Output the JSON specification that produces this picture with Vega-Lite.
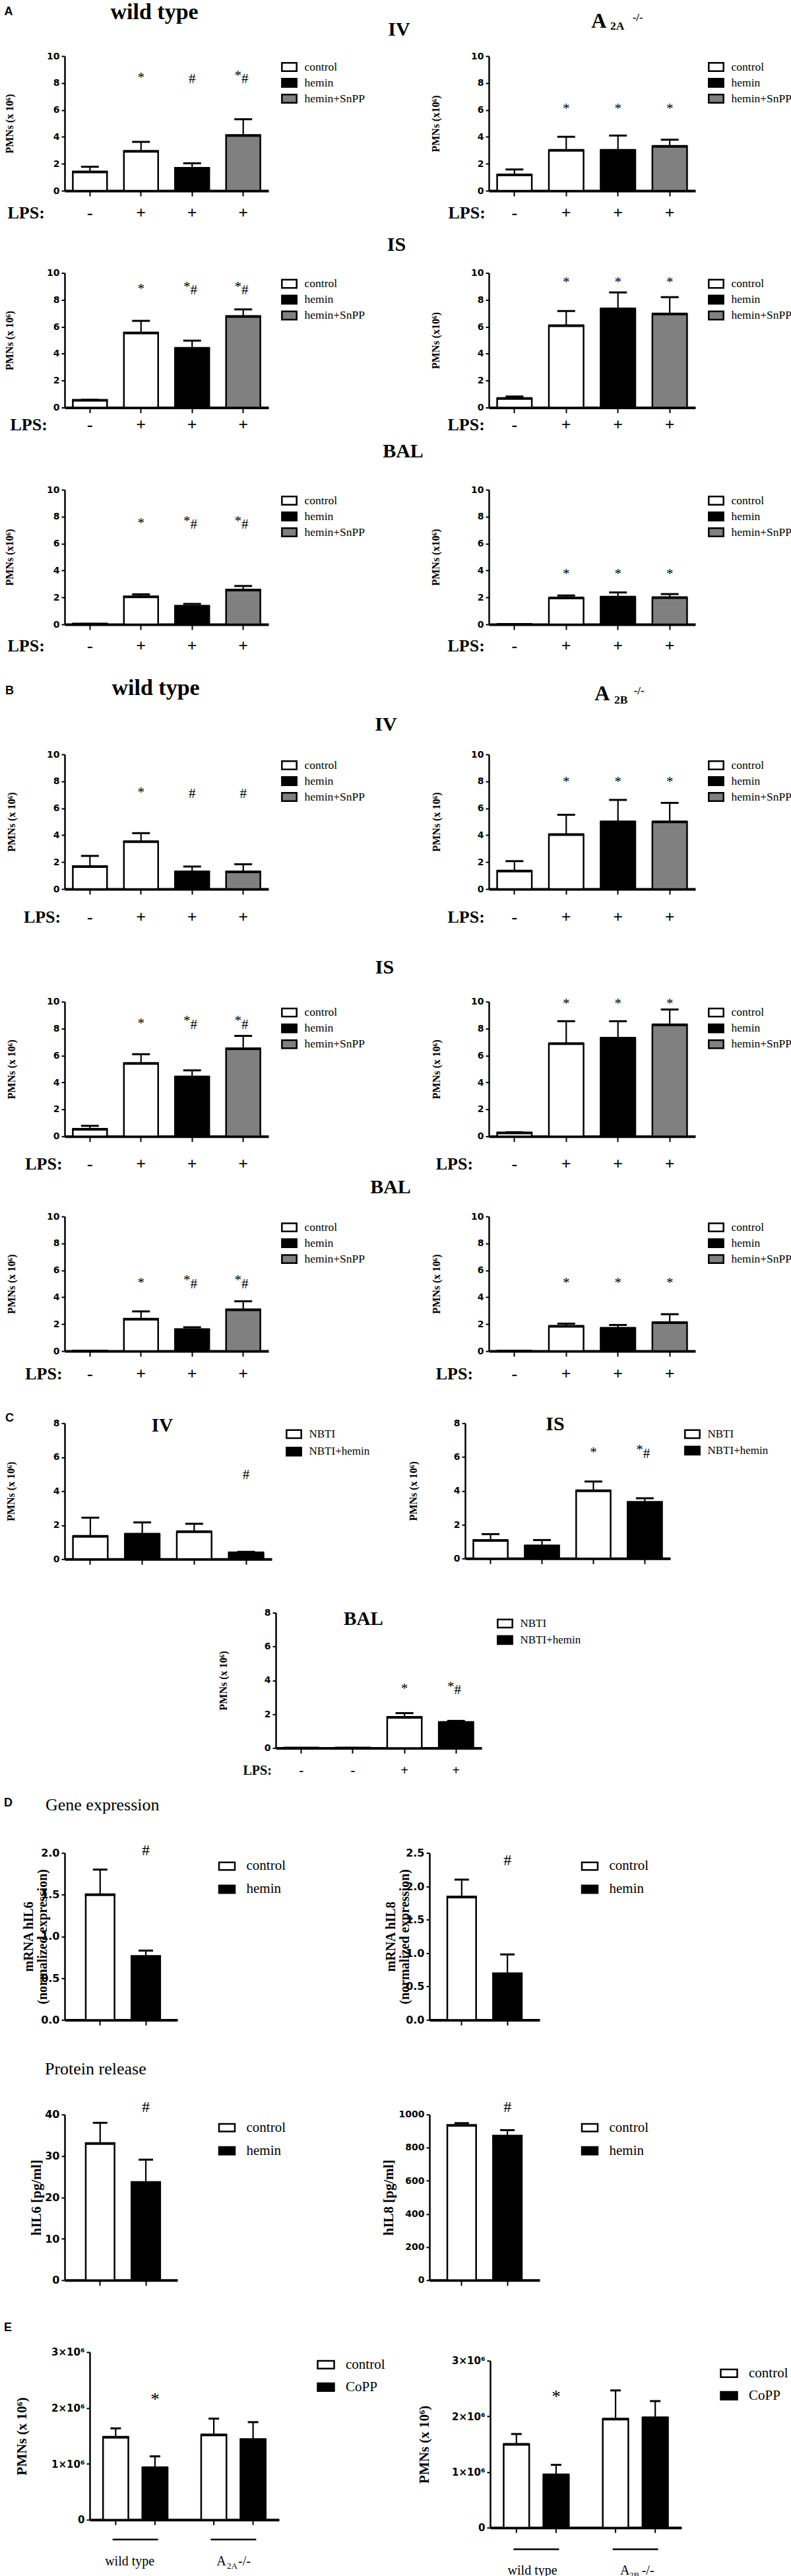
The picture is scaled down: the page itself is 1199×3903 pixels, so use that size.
{
"$schema": "https://vega.github.io/schema/vega-lite/v6.json",
"background": "white",
"padding": {"left": 5, "top": 1, "right": 0, "bottom": 0},
"datasets": {
"bars": [
{"p":"a1","k":"1","g":"control","v":1.4,"e":1.78,"s":""},
{"p":"a1","k":"2","g":"control","v":2.93,"e":3.63,"s":"*"},
{"p":"a1","k":"3","g":"hemin","v":1.67,"e":2.04,"s":"#"},
{"p":"a1","k":"4","g":"hemin+SnPP","v":4.1,"e":5.31,"s":"*#"},
{"p":"a2","k":"1","g":"control","v":1.18,"e":1.58,"s":""},
{"p":"a2","k":"2","g":"control","v":3.0,"e":4.01,"s":"*"},
{"p":"a2","k":"3","g":"hemin","v":3.0,"e":4.1,"s":"*"},
{"p":"a2","k":"4","g":"hemin+SnPP","v":3.3,"e":3.79,"s":"*"},
{"p":"a3","k":"1","g":"control","v":0.54,"e":0.58,"s":""},
{"p":"a3","k":"2","g":"control","v":5.54,"e":6.44,"s":"*"},
{"p":"a3","k":"3","g":"hemin","v":4.4,"e":4.97,"s":"*#"},
{"p":"a3","k":"4","g":"hemin+SnPP","v":6.76,"e":7.29,"s":"*#"},
{"p":"a4","k":"1","g":"control","v":0.68,"e":0.82,"s":""},
{"p":"a4","k":"2","g":"control","v":6.08,"e":7.17,"s":"*"},
{"p":"a4","k":"3","g":"hemin","v":7.33,"e":8.55,"s":"*"},
{"p":"a4","k":"4","g":"hemin+SnPP","v":6.95,"e":8.2,"s":"*"},
{"p":"a5","k":"1","g":"control","v":0.03,"e":0.03,"s":""},
{"p":"a5","k":"2","g":"control","v":2.05,"e":2.23,"s":"*"},
{"p":"a5","k":"3","g":"hemin","v":1.35,"e":1.52,"s":"*#"},
{"p":"a5","k":"4","g":"hemin+SnPP","v":2.55,"e":2.85,"s":"*#"},
{"p":"a6","k":"1","g":"control","v":0,"e":0,"s":""},
{"p":"a6","k":"2","g":"control","v":1.96,"e":2.14,"s":"*"},
{"p":"a6","k":"3","g":"hemin","v":2.02,"e":2.37,"s":"*"},
{"p":"a6","k":"4","g":"hemin+SnPP","v":1.98,"e":2.25,"s":"*"},
{"p":"b1","k":"1","g":"control","v":1.67,"e":2.46,"s":""},
{"p":"b1","k":"2","g":"control","v":3.52,"e":4.15,"s":"*"},
{"p":"b1","k":"3","g":"hemin","v":1.28,"e":1.67,"s":"#"},
{"p":"b1","k":"4","g":"hemin+SnPP","v":1.28,"e":1.84,"s":"#"},
{"p":"b2","k":"1","g":"control","v":1.33,"e":2.07,"s":""},
{"p":"b2","k":"2","g":"control","v":4.04,"e":5.51,"s":"*"},
{"p":"b2","k":"3","g":"hemin","v":4.99,"e":6.62,"s":"*"},
{"p":"b2","k":"4","g":"hemin+SnPP","v":4.99,"e":6.4,"s":"*"},
{"p":"b3","k":"1","g":"control","v":0.52,"e":0.78,"s":""},
{"p":"b3","k":"2","g":"control","v":5.42,"e":6.1,"s":"*"},
{"p":"b3","k":"3","g":"hemin","v":4.41,"e":4.9,"s":"*#"},
{"p":"b3","k":"4","g":"hemin+SnPP","v":6.5,"e":7.46,"s":"*#"},
{"p":"b4","k":"1","g":"control","v":0.26,"e":0.3,"s":""},
{"p":"b4","k":"2","g":"control","v":6.89,"e":8.55,"s":"*"},
{"p":"b4","k":"3","g":"hemin","v":7.29,"e":8.55,"s":"*"},
{"p":"b4","k":"4","g":"hemin+SnPP","v":8.28,"e":9.42,"s":"*"},
{"p":"b5","k":"1","g":"control","v":0,"e":0,"s":""},
{"p":"b5","k":"2","g":"control","v":2.37,"e":2.95,"s":"*"},
{"p":"b5","k":"3","g":"hemin","v":1.6,"e":1.77,"s":"*#"},
{"p":"b5","k":"4","g":"hemin+SnPP","v":3.07,"e":3.7,"s":"*#"},
{"p":"b6","k":"1","g":"control","v":0,"e":0,"s":""},
{"p":"b6","k":"2","g":"control","v":1.84,"e":2.04,"s":"*"},
{"p":"b6","k":"3","g":"hemin","v":1.69,"e":1.94,"s":"*"},
{"p":"b6","k":"4","g":"hemin+SnPP","v":2.11,"e":2.74,"s":"*"},
{"p":"c1","k":"1","g":"NBTI","v":1.34,"e":2.44,"s":""},
{"p":"c1","k":"2","g":"NBTI+hemin","v":1.47,"e":2.16,"s":""},
{"p":"c1","k":"3","g":"NBTI","v":1.61,"e":2.08,"s":""},
{"p":"c1","k":"4","g":"NBTI+hemin","v":0.37,"e":0.43,"s":"#"},
{"p":"c2","k":"1","g":"NBTI","v":1.07,"e":1.44,"s":""},
{"p":"c2","k":"2","g":"NBTI+hemin","v":0.74,"e":1.09,"s":""},
{"p":"c2","k":"3","g":"NBTI","v":4.0,"e":4.55,"s":"*"},
{"p":"c2","k":"4","g":"NBTI+hemin","v":3.32,"e":3.56,"s":"*#"},
{"p":"c3","k":"1","g":"NBTI","v":0,"e":0,"s":""},
{"p":"c3","k":"2","g":"NBTI+hemin","v":0,"e":0,"s":""},
{"p":"c3","k":"3","g":"NBTI","v":1.81,"e":2.06,"s":"*"},
{"p":"c3","k":"4","g":"NBTI+hemin","v":1.51,"e":1.6,"s":"*#"},
{"p":"d1","k":"1","g":"control","v":1.5,"e":1.8,"s":""},
{"p":"d1","k":"2","g":"hemin","v":0.76,"e":0.83,"s":"#"},
{"p":"d2","k":"1","g":"control","v":1.84,"e":2.1,"s":""},
{"p":"d2","k":"2","g":"hemin","v":0.69,"e":0.98,"s":"#"},
{"p":"d3","k":"1","g":"control","v":33,"e":38,"s":""},
{"p":"d3","k":"2","g":"hemin","v":23.6,"e":29.1,"s":"#"},
{"p":"d4","k":"1","g":"control","v":934,"e":948,"s":""},
{"p":"d4","k":"2","g":"hemin","v":870,"e":906,"s":"#"},
{"p":"e1","grp":"wt","g":"control","v":1476000,"e":1636000,"s":""},
{"p":"e1","grp":"wt","g":"CoPP","v":930000,"e":1135000,"s":"*"},
{"p":"e1","grp":"ko","g":"control","v":1518000,"e":1810000,"s":""},
{"p":"e1","grp":"ko","g":"CoPP","v":1435000,"e":1747000,"s":""},
{"p":"e2","grp":"wt","g":"control","v":1498000,"e":1683000,"s":""},
{"p":"e2","grp":"wt","g":"CoPP","v":948000,"e":1129000,"s":"*"},
{"p":"e2","grp":"ko","g":"control","v":1950000,"e":2466000,"s":""},
{"p":"e2","grp":"ko","g":"CoPP","v":1974000,"e":2274000,"s":""}
],
"lab": [
{"id":"A","t":"A"},{"id":"B","t":"B"},{"id":"C","t":"C"},{"id":"D","t":"D"},{"id":"E","t":"E"},
{"id":"wt","t":"wild type"},{"id":"IV","t":"IV"},{"id":"IS","t":"IS"},{"id":"BAL","t":"BAL"},
{"id":"2A","t":"2A"},{"id":"2B","t":"2B"},{"id":"ko","t":"-/-"},
{"id":"gene","t":"Gene expression"},{"id":"prot","t":"Protein release"}
]
},
"data": {"name": "bars"},
"config": {
"view": {"stroke": null},
"font": "Liberation Serif",
"axis": {"grid": false, "domainColor": "#000", "tickColor": "#000", "labelColor": "#000", "titleColor": "#000"},
"axisX": {"domainWidth": 4, "tickWidth": 2, "tickSize": 8, "labelAngle": 0, "labelFont": "Liberation Serif", "labelFontWeight": "bold", "labelFontSize": 26, "labelBaseline": "middle", "labelPadding": 25, "labelOverlap": false, "labelFlush": false, "titleFont": "Liberation Serif", "titleFontWeight": "bold", "titleFontSize": 26, "titleAngle": 0, "titleAlign": "left", "titleBaseline": "middle", "titleX": -85, "titleY": 33},
"axisY": {"domainWidth": 2.5, "tickWidth": 2, "tickSize": 5, "labelFont": "DejaVu Sans", "labelFontWeight": "bold", "labelFontSize": 14, "labelPadding": 3, "titleFont": "Liberation Serif", "titleFontWeight": "bold", "titleFontSize": 16, "titleX": -82, "titleBaseline": "middle"},
"bar": {"stroke": "#000", "strokeWidth": 2.5},
"rule": {"color": "#000", "strokeWidth": 2.2},
"tick": {"color": "#000", "thickness": 3, "opacity": 1},
"text": {"font": "Liberation Serif", "fontSize": 21, "color": "#000", "baseline": "middle", "align": "center"},
"legend": {"orient": "right", "offset": 15, "padding": 4, "symbolType": "M-1,-0.55H1V0.55H-1Z", "symbolSize": 500, "symbolStrokeColor": "#000", "symbolStrokeWidth": 2.5, "symbolOpacity": 1, "labelFont": "Liberation Serif", "labelFontSize": 17.5, "labelColor": "#000", "labelOffset": 10.5, "rowPadding": 0}
},
"resolve": {"scale": {"x": "independent", "y": "independent", "fill": "independent", "xOffset": "independent"}, "legend": {"fill": "independent"}},
"spacing": 48.7,
"vconcat": [
{
"spacing": 34,
"resolve": {"scale": {"x": "independent", "y": "independent", "fill": "independent"}, "legend": {"fill": "independent"}},
"vconcat": [
{
"columns": 2, "bounds": "flush", "spacing": {"row": 124.5, "column": 334},
"resolve": {"scale": {"x": "independent", "y": "independent", "fill": "independent"}, "legend": {"fill": "independent"}},
"concat": [
{
"width": 309, "height": 204,
"transform": [{"filter": "datum.p=='a1'"}],
"encoding": {"x": {"field": "k", "type": "nominal", "scale": {"paddingInner": 0.33, "paddingOuter": 0.16}, "axis": {"labelExpr": "datum.value=='1'?'-':'+'", "title": "LPS:", "titleX": -87, "titleY": 33, "labelPadding": 25}}},
"layer": [
{"mark": "bar", "encoding": {"y": {"field": "v", "type": "quantitative", "scale": {"domain": [0, 10], "nice": false}, "axis": {"values": [0, 2, 4, 6, 8, 10], "title": "PMNs (x 10⁶)", "titleX": -83.5}}, "fill": {"field": "g", "type": "nominal", "scale": {"domain": ["control", "hemin", "hemin+SnPP"], "range": ["#ffffff", "#000000", "#808080"]}, "legend": {"title": null}}}},
{"mark": "rule", "encoding": {"y": {"field": "v", "type": "quantitative"}, "y2": {"field": "e"}}},
{"mark": {"type": "tick", "size": 27}, "encoding": {"y": {"field": "e", "type": "quantitative"}}},
{"mark": {"type": "tick", "size": 54, "thickness": 4}, "encoding": {"y": {"field": "v", "type": "quantitative"}}},
{"transform": [{"filter": "datum.s=='*'"}], "mark": {"type": "text", "text": "*", "dy": -2}, "encoding": {"y": {"datum": 8.28}}},
{"transform": [{"filter": "datum.s=='#'"}], "mark": {"type": "text", "text": "#"}, "encoding": {"y": {"datum": 8.28}}},
{"transform": [{"filter": "datum.s=='*#'"}], "mark": {"type": "text", "text": "*", "dx": -8, "dy": -5.5}, "encoding": {"y": {"datum": 8.28}}},
{"transform": [{"filter": "datum.s=='*#'"}], "mark": {"type": "text", "text": "#", "dx": 2.5}, "encoding": {"y": {"datum": 8.28}}},
{"data": {"name": "lab"}, "transform": [{"filter": "datum.id=='A'"}], "mark": {"type": "text", "font": "Liberation Sans", "fontWeight": "bold", "fontSize": 18, "dx": -123.3}, "encoding": {"x": {"datum": "1"}, "y": {"datum": 13.28}, "text": {"field": "t"}}},
{"data": {"name": "lab"}, "transform": [{"filter": "datum.id=='wt'"}], "mark": {"type": "text", "fontWeight": "bold", "fontSize": 34, "baseline": "alphabetic", "dx": 20.3}, "encoding": {"x": {"datum": "2"}, "y": {"datum": 12.76}, "text": {"field": "t"}}}
]
},
{
"width": 313, "height": 204,
"transform": [{"filter": "datum.p=='a2'"}],
"encoding": {"x": {"field": "k", "type": "nominal", "scale": {"paddingInner": 0.33, "paddingOuter": 0.16}, "axis": {"labelExpr": "datum.value=='1'?'-':'+'", "title": "LPS:", "titleX": -62, "titleY": 33, "labelPadding": 25}}},
"layer": [
{"mark": "bar", "encoding": {"y": {"field": "v", "type": "quantitative", "scale": {"domain": [0, 10], "nice": false}, "axis": {"values": [0, 2, 4, 6, 8, 10], "title": "PMNs (x10⁶)", "titleX": -81}}, "fill": {"field": "g", "type": "nominal", "scale": {"domain": ["control", "hemin", "hemin+SnPP"], "range": ["#ffffff", "#000000", "#808080"]}, "legend": {"title": null}}}},
{"mark": "rule", "encoding": {"y": {"field": "v", "type": "quantitative"}, "y2": {"field": "e"}}},
{"mark": {"type": "tick", "size": 27}, "encoding": {"y": {"field": "e", "type": "quantitative"}}},
{"mark": {"type": "tick", "size": 54, "thickness": 4}, "encoding": {"y": {"field": "v", "type": "quantitative"}}},
{"transform": [{"filter": "datum.s=='*'"}], "mark": {"type": "text", "text": "*", "dy": -2}, "encoding": {"y": {"datum": 6.0}}},
{"data": {"name": "lab"}, "transform": [{"filter": "datum.id=='IV'"}], "mark": {"type": "text", "fontWeight": "bold", "fontSize": 30, "baseline": "alphabetic", "dx": -174.8}, "encoding": {"x": {"datum": "1"}, "y": {"datum": 11.53}, "text": {"field": "t"}}},
{"data": {"name": "lab"}, "transform": [{"filter": "datum.id=='A'"}], "mark": {"type": "text", "fontWeight": "bold", "fontSize": 32, "baseline": "alphabetic", "dx": -29}, "encoding": {"x": {"datum": "3"}, "y": {"datum": 12.12}, "text": {"field": "t"}}},
{"data": {"name": "lab"}, "transform": [{"filter": "datum.id=='2A'"}], "mark": {"type": "text", "fontWeight": "bold", "fontSize": 17.5, "baseline": "alphabetic", "dx": -1, "dy": 3.3}, "encoding": {"x": {"datum": "3"}, "y": {"datum": 12.12}, "text": {"field": "t"}}},
{"data": {"name": "lab"}, "transform": [{"filter": "datum.id=='ko'"}], "mark": {"type": "text", "fontWeight": "bold", "fontSize": 17, "baseline": "alphabetic", "dx": 30, "dy": -10}, "encoding": {"x": {"datum": "3"}, "y": {"datum": 12.12}, "text": {"field": "t"}}}
]
},
{
"width": 309, "height": 204,
"transform": [{"filter": "datum.p=='a3'"}],
"encoding": {"x": {"field": "k", "type": "nominal", "scale": {"paddingInner": 0.33, "paddingOuter": 0.16}, "axis": {"labelExpr": "datum.value=='1'?'-':'+'", "title": "LPS:", "titleX": -83, "titleY": 26, "labelPadding": 18}}},
"layer": [
{"mark": "bar", "encoding": {"y": {"field": "v", "type": "quantitative", "scale": {"domain": [0, 10], "nice": false}, "axis": {"values": [0, 2, 4, 6, 8, 10], "title": "PMNs (x 10⁶)", "titleX": -83.5}}, "fill": {"field": "g", "type": "nominal", "scale": {"domain": ["control", "hemin", "hemin+SnPP"], "range": ["#ffffff", "#000000", "#808080"]}, "legend": {"title": null}}}},
{"mark": "rule", "encoding": {"y": {"field": "v", "type": "quantitative"}, "y2": {"field": "e"}}},
{"mark": {"type": "tick", "size": 27}, "encoding": {"y": {"field": "e", "type": "quantitative"}}},
{"mark": {"type": "tick", "size": 54, "thickness": 4}, "encoding": {"y": {"field": "v", "type": "quantitative"}}},
{"transform": [{"filter": "datum.s=='*'"}], "mark": {"type": "text", "text": "*", "dy": -2}, "encoding": {"y": {"datum": 8.7}}},
{"transform": [{"filter": "datum.s=='*#'"}], "mark": {"type": "text", "text": "*", "dx": -8, "dy": -5.5}, "encoding": {"y": {"datum": 8.7}}},
{"transform": [{"filter": "datum.s=='*#'"}], "mark": {"type": "text", "text": "#", "dx": 2.5}, "encoding": {"y": {"datum": 8.7}}}
]
},
{
"width": 313, "height": 204,
"transform": [{"filter": "datum.p=='a4'"}],
"encoding": {"x": {"field": "k", "type": "nominal", "scale": {"paddingInner": 0.33, "paddingOuter": 0.16}, "axis": {"labelExpr": "datum.value=='1'?'-':'+'", "title": "LPS:", "titleX": -63, "titleY": 26, "labelPadding": 18}}},
"layer": [
{"mark": "bar", "encoding": {"y": {"field": "v", "type": "quantitative", "scale": {"domain": [0, 10], "nice": false}, "axis": {"values": [0, 2, 4, 6, 8, 10], "title": "PMNs (x10⁶)", "titleX": -81}}, "fill": {"field": "g", "type": "nominal", "scale": {"domain": ["control", "hemin", "hemin+SnPP"], "range": ["#ffffff", "#000000", "#808080"]}, "legend": {"title": null}}}},
{"mark": "rule", "encoding": {"y": {"field": "v", "type": "quantitative"}, "y2": {"field": "e"}}},
{"mark": {"type": "tick", "size": 27}, "encoding": {"y": {"field": "e", "type": "quantitative"}}},
{"mark": {"type": "tick", "size": 54, "thickness": 4}, "encoding": {"y": {"field": "v", "type": "quantitative"}}},
{"transform": [{"filter": "datum.s=='*'"}], "mark": {"type": "text", "text": "*", "dy": -2}, "encoding": {"y": {"datum": 9.2}}},
{"data": {"name": "lab"}, "transform": [{"filter": "datum.id=='IS'"}], "mark": {"type": "text", "fontWeight": "bold", "fontSize": 30, "baseline": "alphabetic", "dx": -178.8}, "encoding": {"x": {"datum": "1"}, "y": {"datum": 11.66}, "text": {"field": "t"}}}
]
},
{
"width": 309, "height": 204,
"transform": [{"filter": "datum.p=='a5'"}],
"encoding": {"x": {"field": "k", "type": "nominal", "scale": {"paddingInner": 0.33, "paddingOuter": 0.16}, "axis": {"labelExpr": "datum.value=='1'?'-':'+'", "title": "LPS:", "titleX": -87, "titleY": 32, "labelPadding": 24}}},
"layer": [
{"mark": "bar", "encoding": {"y": {"field": "v", "type": "quantitative", "scale": {"domain": [0, 10], "nice": false}, "axis": {"values": [0, 2, 4, 6, 8, 10], "title": "PMNs (x10⁶)", "titleX": -83.5}}, "fill": {"field": "g", "type": "nominal", "scale": {"domain": ["control", "hemin", "hemin+SnPP"], "range": ["#ffffff", "#000000", "#808080"]}, "legend": {"title": null}}}},
{"mark": "rule", "encoding": {"y": {"field": "v", "type": "quantitative"}, "y2": {"field": "e"}}},
{"mark": {"type": "tick", "size": 27}, "encoding": {"y": {"field": "e", "type": "quantitative"}}},
{"mark": {"type": "tick", "size": 54, "thickness": 4}, "encoding": {"y": {"field": "v", "type": "quantitative"}}},
{"transform": [{"filter": "datum.s=='*'"}], "mark": {"type": "text", "text": "*", "dy": -2}, "encoding": {"y": {"datum": 7.39}}},
{"transform": [{"filter": "datum.s=='*#'"}], "mark": {"type": "text", "text": "*", "dx": -8, "dy": -5.5}, "encoding": {"y": {"datum": 7.39}}},
{"transform": [{"filter": "datum.s=='*#'"}], "mark": {"type": "text", "text": "#", "dx": 2.5}, "encoding": {"y": {"datum": 7.39}}}
]
},
{
"width": 313, "height": 204,
"transform": [{"filter": "datum.p=='a6'"}],
"encoding": {"x": {"field": "k", "type": "nominal", "scale": {"paddingInner": 0.33, "paddingOuter": 0.16}, "axis": {"labelExpr": "datum.value=='1'?'-':'+'", "title": "LPS:", "titleX": -63, "titleY": 32, "labelPadding": 24}}},
"layer": [
{"mark": "bar", "encoding": {"y": {"field": "v", "type": "quantitative", "scale": {"domain": [0, 10], "nice": false}, "axis": {"values": [0, 2, 4, 6, 8, 10], "title": "PMNs (x10⁶)", "titleX": -81}}, "fill": {"field": "g", "type": "nominal", "scale": {"domain": ["control", "hemin", "hemin+SnPP"], "range": ["#ffffff", "#000000", "#808080"]}, "legend": {"title": null}}}},
{"mark": "rule", "encoding": {"y": {"field": "v", "type": "quantitative"}, "y2": {"field": "e"}}},
{"mark": {"type": "tick", "size": 27}, "encoding": {"y": {"field": "e", "type": "quantitative"}}},
{"mark": {"type": "tick", "size": 54, "thickness": 4}, "encoding": {"y": {"field": "v", "type": "quantitative"}}},
{"transform": [{"filter": "datum.s=='*'"}], "mark": {"type": "text", "text": "*", "dy": -2}, "encoding": {"y": {"datum": 3.62}}},
{"data": {"name": "lab"}, "transform": [{"filter": "datum.id=='BAL'"}], "mark": {"type": "text", "fontWeight": "bold", "fontSize": 30, "baseline": "alphabetic", "dx": -168.8}, "encoding": {"x": {"datum": "1"}, "y": {"datum": 12.38}, "text": {"field": "t"}}}
]
}
]
},
{
"bounds": "flush", "spacing": 334,
"resolve": {"scale": {"x": "independent", "y": "independent", "fill": "independent"}, "legend": {"fill": "independent"}},
"hconcat": [
{
"width": 309, "height": 204,
"transform": [{"filter": "datum.p=='b1'"}],
"encoding": {"x": {"field": "k", "type": "nominal", "scale": {"paddingInner": 0.33, "paddingOuter": 0.16}, "axis": {"labelExpr": "datum.value=='1'?'-':'+'", "title": "LPS:", "titleX": -62.6, "titleY": 42, "labelPadding": 34}}},
"layer": [
{"mark": "bar", "encoding": {"y": {"field": "v", "type": "quantitative", "scale": {"domain": [0, 10], "nice": false}, "axis": {"values": [0, 2, 4, 6, 8, 10], "title": "PMNs (x 10⁶)", "titleX": -81}}, "fill": {"field": "g", "type": "nominal", "scale": {"domain": ["control", "hemin", "hemin+SnPP"], "range": ["#ffffff", "#000000", "#808080"]}, "legend": {"title": null}}}},
{"mark": "rule", "encoding": {"y": {"field": "v", "type": "quantitative"}, "y2": {"field": "e"}}},
{"mark": {"type": "tick", "size": 27}, "encoding": {"y": {"field": "e", "type": "quantitative"}}},
{"mark": {"type": "tick", "size": 54, "thickness": 4}, "encoding": {"y": {"field": "v", "type": "quantitative"}}},
{"transform": [{"filter": "datum.s=='*'"}], "mark": {"type": "text", "text": "*", "dy": -2}, "encoding": {"y": {"datum": 7.06}}},
{"transform": [{"filter": "datum.s=='#'"}], "mark": {"type": "text", "text": "#"}, "encoding": {"y": {"datum": 7.06}}},
{"data": {"name": "lab"}, "transform": [{"filter": "datum.id=='B'"}], "mark": {"type": "text", "font": "Liberation Sans", "fontWeight": "bold", "fontSize": 18, "dx": -121.8}, "encoding": {"x": {"datum": "1"}, "y": {"datum": 14.71}, "text": {"field": "t"}}},
{"data": {"name": "lab"}, "transform": [{"filter": "datum.id=='wt'"}], "mark": {"type": "text", "fontWeight": "bold", "fontSize": 34, "baseline": "alphabetic", "dx": 22.3}, "encoding": {"x": {"datum": "2"}, "y": {"datum": 14.42}, "text": {"field": "t"}}}
]
},
{
"width": 313, "height": 204,
"transform": [{"filter": "datum.p=='b2'"}],
"encoding": {"x": {"field": "k", "type": "nominal", "scale": {"paddingInner": 0.33, "paddingOuter": 0.16}, "axis": {"labelExpr": "datum.value=='1'?'-':'+'", "title": "LPS:", "titleX": -63, "titleY": 42, "labelPadding": 34}}},
"layer": [
{"mark": "bar", "encoding": {"y": {"field": "v", "type": "quantitative", "scale": {"domain": [0, 10], "nice": false}, "axis": {"values": [0, 2, 4, 6, 8, 10], "title": "PMNs (x 10⁶)", "titleX": -80}}, "fill": {"field": "g", "type": "nominal", "scale": {"domain": ["control", "hemin", "hemin+SnPP"], "range": ["#ffffff", "#000000", "#808080"]}, "legend": {"title": null}}}},
{"mark": "rule", "encoding": {"y": {"field": "v", "type": "quantitative"}, "y2": {"field": "e"}}},
{"mark": {"type": "tick", "size": 27}, "encoding": {"y": {"field": "e", "type": "quantitative"}}},
{"mark": {"type": "tick", "size": 54, "thickness": 4}, "encoding": {"y": {"field": "v", "type": "quantitative"}}},
{"transform": [{"filter": "datum.s=='*'"}], "mark": {"type": "text", "text": "*", "dy": -2}, "encoding": {"y": {"datum": 7.86}}},
{"data": {"name": "lab"}, "transform": [{"filter": "datum.id=='IV'"}], "mark": {"type": "text", "fontWeight": "bold", "fontSize": 30, "baseline": "alphabetic", "dx": -194.8}, "encoding": {"x": {"datum": "1"}, "y": {"datum": 11.76}, "text": {"field": "t"}}},
{"data": {"name": "lab"}, "transform": [{"filter": "datum.id=='A'"}], "mark": {"type": "text", "fontWeight": "bold", "fontSize": 32, "baseline": "alphabetic", "dx": -24}, "encoding": {"x": {"datum": "3"}, "y": {"datum": 14.02}, "text": {"field": "t"}}},
{"data": {"name": "lab"}, "transform": [{"filter": "datum.id=='2B'"}], "mark": {"type": "text", "fontWeight": "bold", "fontSize": 17.5, "baseline": "alphabetic", "dx": 4.5, "dy": 5}, "encoding": {"x": {"datum": "3"}, "y": {"datum": 14.02}, "text": {"field": "t"}}},
{"data": {"name": "lab"}, "transform": [{"filter": "datum.id=='ko'"}], "mark": {"type": "text", "fontWeight": "bold", "fontSize": 17, "baseline": "alphabetic", "dx": 32, "dy": -9}, "encoding": {"x": {"datum": "3"}, "y": {"datum": 14.02}, "text": {"field": "t"}}}
]
}
]
}
]
},
{
"spacing": 28.7,
"resolve": {"scale": {"x": "independent", "y": "independent", "fill": "independent", "xOffset": "independent"}, "legend": {"fill": "independent"}},
"vconcat": [
{
"spacing": 45.6,
"resolve": {"scale": {"x": "independent", "y": "independent", "fill": "independent"}, "legend": {"fill": "independent"}},
"vconcat": [
{
"columns": 2, "bounds": "flush", "spacing": {"row": 121.4, "column": 334},
"resolve": {"scale": {"x": "independent", "y": "independent", "fill": "independent"}, "legend": {"fill": "independent"}},
"concat": [
{
"width": 309, "height": 204,
"transform": [{"filter": "datum.p=='b3'"}],
"encoding": {"x": {"field": "k", "type": "nominal", "scale": {"paddingInner": 0.33, "paddingOuter": 0.16}, "axis": {"labelExpr": "datum.value=='1'?'-':'+'", "title": "LPS:", "titleX": -60.3, "titleY": 42, "labelPadding": 34}}},
"layer": [
{"mark": "bar", "encoding": {"y": {"field": "v", "type": "quantitative", "scale": {"domain": [0, 10], "nice": false}, "axis": {"values": [0, 2, 4, 6, 8, 10], "title": "PMNs (x 10⁶)", "titleX": -81}}, "fill": {"field": "g", "type": "nominal", "scale": {"domain": ["control", "hemin", "hemin+SnPP"], "range": ["#ffffff", "#000000", "#808080"]}, "legend": {"title": null}}}},
{"mark": "rule", "encoding": {"y": {"field": "v", "type": "quantitative"}, "y2": {"field": "e"}}},
{"mark": {"type": "tick", "size": 27}, "encoding": {"y": {"field": "e", "type": "quantitative"}}},
{"mark": {"type": "tick", "size": 54, "thickness": 4}, "encoding": {"y": {"field": "v", "type": "quantitative"}}},
{"transform": [{"filter": "datum.s=='*'"}], "mark": {"type": "text", "text": "*", "dy": -2}, "encoding": {"y": {"datum": 8.27}}},
{"transform": [{"filter": "datum.s=='*#'"}], "mark": {"type": "text", "text": "*", "dx": -8, "dy": -5.5}, "encoding": {"y": {"datum": 8.27}}},
{"transform": [{"filter": "datum.s=='*#'"}], "mark": {"type": "text", "text": "#", "dx": 2.5}, "encoding": {"y": {"datum": 8.27}}}
]
},
{
"width": 313, "height": 204,
"transform": [{"filter": "datum.p=='b4'"}],
"encoding": {"x": {"field": "k", "type": "nominal", "scale": {"paddingInner": 0.33, "paddingOuter": 0.16}, "axis": {"labelExpr": "datum.value=='1'?'-':'+'", "title": "LPS:", "titleX": -80.8, "titleY": 42, "labelPadding": 34}}},
"layer": [
{"mark": "bar", "encoding": {"y": {"field": "v", "type": "quantitative", "scale": {"domain": [0, 10], "nice": false}, "axis": {"values": [0, 2, 4, 6, 8, 10], "title": "PMNs (x 10⁶)", "titleX": -80}}, "fill": {"field": "g", "type": "nominal", "scale": {"domain": ["control", "hemin", "hemin+SnPP"], "range": ["#ffffff", "#000000", "#808080"]}, "legend": {"title": null}}}},
{"mark": "rule", "encoding": {"y": {"field": "v", "type": "quantitative"}, "y2": {"field": "e"}}},
{"mark": {"type": "tick", "size": 27}, "encoding": {"y": {"field": "e", "type": "quantitative"}}},
{"mark": {"type": "tick", "size": 54, "thickness": 4}, "encoding": {"y": {"field": "v", "type": "quantitative"}}},
{"transform": [{"filter": "datum.s=='*'"}], "mark": {"type": "text", "text": "*", "dy": -2}, "encoding": {"y": {"datum": 9.75}}},
{"data": {"name": "lab"}, "transform": [{"filter": "datum.id=='IS'"}], "mark": {"type": "text", "fontWeight": "bold", "fontSize": 30, "baseline": "alphabetic", "dx": -196.8}, "encoding": {"x": {"datum": "1"}, "y": {"datum": 12.09}, "text": {"field": "t"}}}
]
},
{
"width": 309, "height": 204,
"transform": [{"filter": "datum.p=='b5'"}],
"encoding": {"x": {"field": "k", "type": "nominal", "scale": {"paddingInner": 0.33, "paddingOuter": 0.16}, "axis": {"labelExpr": "datum.value=='1'?'-':'+'", "title": "LPS:", "titleX": -60.3, "titleY": 34, "labelPadding": 26}}},
"layer": [
{"mark": "bar", "encoding": {"y": {"field": "v", "type": "quantitative", "scale": {"domain": [0, 10], "nice": false}, "axis": {"values": [0, 2, 4, 6, 8, 10], "title": "PMNs (x 10⁶)", "titleX": -81}}, "fill": {"field": "g", "type": "nominal", "scale": {"domain": ["control", "hemin", "hemin+SnPP"], "range": ["#ffffff", "#000000", "#808080"]}, "legend": {"title": null}}}},
{"mark": "rule", "encoding": {"y": {"field": "v", "type": "quantitative"}, "y2": {"field": "e"}}},
{"mark": {"type": "tick", "size": 27}, "encoding": {"y": {"field": "e", "type": "quantitative"}}},
{"mark": {"type": "tick", "size": 54, "thickness": 4}, "encoding": {"y": {"field": "v", "type": "quantitative"}}},
{"transform": [{"filter": "datum.s=='*'"}], "mark": {"type": "text", "text": "*", "dy": -2}, "encoding": {"y": {"datum": 4.98}}},
{"transform": [{"filter": "datum.s=='*#'"}], "mark": {"type": "text", "text": "*", "dx": -8, "dy": -5.5}, "encoding": {"y": {"datum": 4.98}}},
{"transform": [{"filter": "datum.s=='*#'"}], "mark": {"type": "text", "text": "#", "dx": 2.5}, "encoding": {"y": {"datum": 4.98}}}
]
},
{
"width": 313, "height": 204,
"transform": [{"filter": "datum.p=='b6'"}],
"encoding": {"x": {"field": "k", "type": "nominal", "scale": {"paddingInner": 0.33, "paddingOuter": 0.16}, "axis": {"labelExpr": "datum.value=='1'?'-':'+'", "title": "LPS:", "titleX": -80.8, "titleY": 34, "labelPadding": 26}}},
"layer": [
{"mark": "bar", "encoding": {"y": {"field": "v", "type": "quantitative", "scale": {"domain": [0, 10], "nice": false}, "axis": {"values": [0, 2, 4, 6, 8, 10], "title": "PMNs (x 10⁶)", "titleX": -80}}, "fill": {"field": "g", "type": "nominal", "scale": {"domain": ["control", "hemin", "hemin+SnPP"], "range": ["#ffffff", "#000000", "#808080"]}, "legend": {"title": null}}}},
{"mark": "rule", "encoding": {"y": {"field": "v", "type": "quantitative"}, "y2": {"field": "e"}}},
{"mark": {"type": "tick", "size": 27}, "encoding": {"y": {"field": "e", "type": "quantitative"}}},
{"mark": {"type": "tick", "size": 54, "thickness": 4}, "encoding": {"y": {"field": "v", "type": "quantitative"}}},
{"transform": [{"filter": "datum.s=='*'"}], "mark": {"type": "text", "text": "*", "dy": -2}, "encoding": {"y": {"datum": 4.98}}},
{"data": {"name": "lab"}, "transform": [{"filter": "datum.id=='BAL'"}], "mark": {"type": "text", "fontWeight": "bold", "fontSize": 30, "baseline": "alphabetic", "dx": -187.8}, "encoding": {"x": {"datum": "1"}, "y": {"datum": 11.72}, "text": {"field": "t"}}}
]
}
]
},
{
"spacing": 65.1,
"resolve": {"scale": {"x": "independent", "y": "independent", "fill": "independent"}, "legend": {"fill": "independent"}},
"vconcat": [
{
"bounds": "flush", "spacing": 293,
"resolve": {"scale": {"x": "independent", "y": "independent", "fill": "independent"}, "legend": {"fill": "independent"}},
"hconcat": [
{
"width": 314, "height": 206,
"transform": [{"filter": "datum.p=='c1'"}],
"encoding": {"x": {"field": "k", "type": "nominal", "scale": {"paddingInner": 0.33, "paddingOuter": 0.16}, "axis": {"labels": false, "title": null}}},
"layer": [
{"mark": "bar", "encoding": {"y": {"field": "v", "type": "quantitative", "scale": {"domain": [0, 8], "nice": false}, "axis": {"values": [0, 2, 4, 6, 8], "title": "PMNs (x 10⁶)", "titleX": -81.5}}, "fill": {"field": "g", "type": "nominal", "scale": {"domain": ["NBTI", "NBTI+hemin"], "range": ["#ffffff", "#000000"]}, "legend": {"title": null, "rowPadding": 2.6, "labelFontSize": 17, "offset": 17}}}},
{"mark": "rule", "encoding": {"y": {"field": "v", "type": "quantitative"}, "y2": {"field": "e"}}},
{"mark": {"type": "tick", "size": 27}, "encoding": {"y": {"field": "e", "type": "quantitative"}}},
{"mark": {"type": "tick", "size": 54, "thickness": 4}, "encoding": {"y": {"field": "v", "type": "quantitative"}}},
{"transform": [{"filter": "datum.s=='#'"}], "mark": {"type": "text", "text": "#"}, "encoding": {"y": {"datum": 4.95}}},
{"data": {"name": "lab"}, "transform": [{"filter": "datum.id=='C'"}], "mark": {"type": "text", "font": "Liberation Sans", "fontWeight": "bold", "fontSize": 18, "dx": -122.5}, "encoding": {"x": {"datum": "1"}, "y": {"datum": 8.27}, "text": {"field": "t"}}},
{"data": {"name": "lab"}, "transform": [{"filter": "datum.id=='IV'"}], "mark": {"type": "text", "fontWeight": "bold", "fontSize": 29, "baseline": "alphabetic", "dx": 30.3}, "encoding": {"x": {"datum": "2"}, "y": {"datum": 7.51}, "text": {"field": "t"}}}
]
},
{
"width": 311, "height": 205,
"transform": [{"filter": "datum.p=='c2'"}],
"encoding": {"x": {"field": "k", "type": "nominal", "scale": {"paddingInner": 0.33, "paddingOuter": 0.16}, "axis": {"labels": false, "title": null}}},
"layer": [
{"mark": "bar", "encoding": {"y": {"field": "v", "type": "quantitative", "scale": {"domain": [0, 8], "nice": false}, "axis": {"values": [0, 2, 4, 6, 8], "title": "PMNs (x 10⁶)", "titleX": -79}}, "fill": {"field": "g", "type": "nominal", "scale": {"domain": ["NBTI", "NBTI+hemin"], "range": ["#ffffff", "#000000"]}, "legend": {"title": null, "rowPadding": 1, "labelFontSize": 17, "offset": 17}}}},
{"mark": "rule", "encoding": {"y": {"field": "v", "type": "quantitative"}, "y2": {"field": "e"}}},
{"mark": {"type": "tick", "size": 27}, "encoding": {"y": {"field": "e", "type": "quantitative"}}},
{"mark": {"type": "tick", "size": 54, "thickness": 4}, "encoding": {"y": {"field": "v", "type": "quantitative"}}},
{"transform": [{"filter": "datum.s=='*'"}], "mark": {"type": "text", "text": "*", "dy": -2}, "encoding": {"y": {"datum": 6.19}}},
{"transform": [{"filter": "datum.s=='*#'"}], "mark": {"type": "text", "text": "*", "dx": -8, "dy": -5.5}, "encoding": {"y": {"datum": 6.19}}},
{"transform": [{"filter": "datum.s=='*#'"}], "mark": {"type": "text", "text": "#", "dx": 2.5}, "encoding": {"y": {"datum": 6.19}}},
{"data": {"name": "lab"}, "transform": [{"filter": "datum.id=='IS'"}], "mark": {"type": "text", "fontWeight": "bold", "fontSize": 30, "baseline": "alphabetic", "dx": 20}, "encoding": {"x": {"datum": "2"}, "y": {"datum": 7.57}, "text": {"field": "t"}}}
]
}
]
},
{
"bounds": "flush", "spacing": 319,
"resolve": {"scale": {"x": "independent", "y": "independent", "fill": "independent"}, "legend": {"fill": "independent"}},
"hconcat": [
{"width": 1, "height": 1, "data": {"name": "lab"}, "transform": [{"filter": "datum.id=='none'"}], "mark": "text"},
{
"width": 312, "height": 205,
"transform": [{"filter": "datum.p=='c3'"}],
"encoding": {"x": {"field": "k", "type": "nominal", "scale": {"paddingInner": 0.33, "paddingOuter": 0.16}, "axis": {"labelExpr": "datum.value<='2'?'-':'+'", "title": "LPS:", "titleX": -50, "titleY": 34, "labelPadding": 26, "labelFontSize": 20, "titleFontSize": 20}}},
"layer": [
{"mark": "bar", "encoding": {"y": {"field": "v", "type": "quantitative", "scale": {"domain": [0, 8], "nice": false}, "axis": {"values": [0, 2, 4, 6, 8], "title": "PMNs (x 10⁶)", "titleX": -80}}, "fill": {"field": "g", "type": "nominal", "scale": {"domain": ["NBTI", "NBTI+hemin"], "range": ["#ffffff", "#000000"]}, "legend": {"title": null, "rowPadding": 1, "labelFontSize": 17, "offset": 19}}}},
{"mark": "rule", "encoding": {"y": {"field": "v", "type": "quantitative"}, "y2": {"field": "e"}}},
{"mark": {"type": "tick", "size": 27}, "encoding": {"y": {"field": "e", "type": "quantitative"}}},
{"mark": {"type": "tick", "size": 54, "thickness": 4}, "encoding": {"y": {"field": "v", "type": "quantitative"}}},
{"transform": [{"filter": "datum.s=='*'"}], "mark": {"type": "text", "text": "*", "dy": -2}, "encoding": {"y": {"datum": 3.4}}},
{"transform": [{"filter": "datum.s=='*#'"}], "mark": {"type": "text", "text": "*", "dx": -8, "dy": -5.5}, "encoding": {"y": {"datum": 3.4}}},
{"transform": [{"filter": "datum.s=='*#'"}], "mark": {"type": "text", "text": "#", "dx": 2.5}, "encoding": {"y": {"datum": 3.4}}},
{"data": {"name": "lab"}, "transform": [{"filter": "datum.id=='BAL'"}], "mark": {"type": "text", "fontWeight": "bold", "fontSize": 29, "baseline": "alphabetic", "dx": 16}, "encoding": {"x": {"datum": "2"}, "y": {"datum": 7.27}, "text": {"field": "t"}}}
]
}
]
}
]
}
]
},
{
"spacing": 53.4,
"resolve": {"scale": {"x": "independent", "y": "independent", "fill": "independent", "xOffset": "independent"}, "legend": {"fill": "independent"}},
"vconcat": [
{
"columns": 2, "bounds": "flush", "spacing": {"row": 143.4, "column": 382},
"resolve": {"scale": {"x": "independent", "y": "independent", "fill": "independent"}, "legend": {"fill": "independent"}},
"concat": [
{
"width": 171, "height": 253,
"transform": [{"filter": "datum.p=='d1'"}],
"encoding": {"x": {"field": "k", "type": "nominal", "scale": {"paddingInner": 0.37, "paddingOuter": 0.42, "align": 0.55}, "axis": {"labels": false, "title": null}}},
"layer": [
{"mark": "bar", "encoding": {"y": {"field": "v", "type": "quantitative", "scale": {"domain": [0, 2], "nice": false}, "axis": {"values": [0, 0.5, 1, 1.5, 2], "format": ".1f", "labelFontSize": 16, "title": ["mRNA hIL6", "(normalized expression)"], "titleX": -55, "titleFontSize": 20, "titleLineHeight": 21}}, "fill": {"field": "g", "type": "nominal", "scale": {"domain": ["control", "hemin"], "range": ["#ffffff", "#000000"]}, "legend": {"title": null, "offset": 54.5, "padding": 6.5, "symbolType": "M-1,-0.48H1V0.48H-1Z", "symbolSize": 576, "labelFontSize": 21, "rowPadding": 10, "labelOffset": 16}}}},
{"mark": "rule", "encoding": {"y": {"field": "v", "type": "quantitative"}, "y2": {"field": "e"}}},
{"mark": {"type": "tick", "size": 22}, "encoding": {"y": {"field": "e", "type": "quantitative"}}},
{"mark": {"type": "tick", "size": 46, "thickness": 4}, "encoding": {"y": {"field": "v", "type": "quantitative"}}},
{"transform": [{"filter": "datum.s=='#'"}], "mark": {"type": "text", "text": "#", "fontSize": 24}, "encoding": {"y": {"datum": 2.03}}},
{"data": {"name": "lab"}, "transform": [{"filter": "datum.id=='D'"}], "mark": {"type": "text", "font": "Liberation Sans", "fontWeight": "bold", "fontSize": 18, "dx": -139.3}, "encoding": {"x": {"datum": "1"}, "y": {"datum": 2.596}, "text": {"field": "t"}}},
{"data": {"name": "lab"}, "transform": [{"filter": "datum.id=='gene'"}], "mark": {"type": "text", "fontSize": 26, "align": "left", "baseline": "alphabetic", "dx": -82.8}, "encoding": {"x": {"datum": "1"}, "y": {"datum": 2.51}, "text": {"field": "t"}}}
]
},
{
"width": 167, "height": 253,
"transform": [{"filter": "datum.p=='d2'"}],
"encoding": {"x": {"field": "k", "type": "nominal", "scale": {"paddingInner": 0.37, "paddingOuter": 0.39}, "axis": {"labels": false, "title": null}}},
"layer": [
{"mark": "bar", "encoding": {"y": {"field": "v", "type": "quantitative", "scale": {"domain": [0, 2.5], "nice": false}, "axis": {"values": [0, 0.5, 1, 1.5, 2, 2.5], "format": ".1f", "labelFontSize": 16, "title": ["mRNA hIL8", "(normalized expression)"], "titleX": -59, "titleFontSize": 20, "titleLineHeight": 21}}, "fill": {"field": "g", "type": "nominal", "scale": {"domain": ["control", "hemin"], "range": ["#ffffff", "#000000"]}, "legend": {"title": null, "offset": 56, "padding": 6.5, "symbolType": "M-1,-0.48H1V0.48H-1Z", "symbolSize": 576, "labelFontSize": 21, "rowPadding": 10, "labelOffset": 16}}}},
{"mark": "rule", "encoding": {"y": {"field": "v", "type": "quantitative"}, "y2": {"field": "e"}}},
{"mark": {"type": "tick", "size": 22}, "encoding": {"y": {"field": "e", "type": "quantitative"}}},
{"mark": {"type": "tick", "size": 46, "thickness": 4}, "encoding": {"y": {"field": "v", "type": "quantitative"}}},
{"transform": [{"filter": "datum.s=='#'"}], "mark": {"type": "text", "text": "#", "fontSize": 24}, "encoding": {"y": {"datum": 2.39}}}
]
},
{
"width": 171, "height": 251,
"transform": [{"filter": "datum.p=='d3'"}],
"encoding": {"x": {"field": "k", "type": "nominal", "scale": {"paddingInner": 0.37, "paddingOuter": 0.42, "align": 0.55}, "axis": {"labels": false, "title": null}}},
"layer": [
{"mark": "bar", "encoding": {"y": {"field": "v", "type": "quantitative", "scale": {"domain": [0, 40], "nice": false}, "axis": {"values": [0, 10, 20, 30, 40], "format": "d", "labelFontSize": 16, "title": "hIL6 [pg/ml]", "titleX": -43, "titleFontSize": 21}}, "fill": {"field": "g", "type": "nominal", "scale": {"domain": ["control", "hemin"], "range": ["#ffffff", "#000000"]}, "legend": {"title": null, "offset": 54.5, "padding": 6.5, "symbolType": "M-1,-0.48H1V0.48H-1Z", "symbolSize": 576, "labelFontSize": 21, "rowPadding": 10, "labelOffset": 16}}}},
{"mark": "rule", "encoding": {"y": {"field": "v", "type": "quantitative"}, "y2": {"field": "e"}}},
{"mark": {"type": "tick", "size": 22}, "encoding": {"y": {"field": "e", "type": "quantitative"}}},
{"mark": {"type": "tick", "size": 46, "thickness": 4}, "encoding": {"y": {"field": "v", "type": "quantitative"}}},
{"transform": [{"filter": "datum.s=='#'"}], "mark": {"type": "text", "text": "#", "fontSize": 24}, "encoding": {"y": {"datum": 41.72}}},
{"data": {"name": "lab"}, "transform": [{"filter": "datum.id=='prot'"}], "mark": {"type": "text", "fontSize": 26, "align": "left", "baseline": "alphabetic", "dx": -83.8}, "encoding": {"x": {"datum": "1"}, "y": {"datum": 49.7}, "text": {"field": "t"}}}
]
},
{
"width": 167, "height": 251,
"transform": [{"filter": "datum.p=='d4'"}],
"encoding": {"x": {"field": "k", "type": "nominal", "scale": {"paddingInner": 0.37, "paddingOuter": 0.39}, "axis": {"labels": false, "title": null}}},
"layer": [
{"mark": "bar", "encoding": {"y": {"field": "v", "type": "quantitative", "scale": {"domain": [0, 1000], "nice": false}, "axis": {"values": [0, 200, 400, 600, 800, 1000], "format": "d", "labelFontSize": 14, "title": "hIL8 [pg/ml]", "titleX": -62, "titleFontSize": 21}}, "fill": {"field": "g", "type": "nominal", "scale": {"domain": ["control", "hemin"], "range": ["#ffffff", "#000000"]}, "legend": {"title": null, "offset": 56, "padding": 6.5, "symbolType": "M-1,-0.48H1V0.48H-1Z", "symbolSize": 576, "labelFontSize": 21, "rowPadding": 10, "labelOffset": 16}}}},
{"mark": "rule", "encoding": {"y": {"field": "v", "type": "quantitative"}, "y2": {"field": "e"}}},
{"mark": {"type": "tick", "size": 22}, "encoding": {"y": {"field": "e", "type": "quantitative"}}},
{"mark": {"type": "tick", "size": 46, "thickness": 4}, "encoding": {"y": {"field": "v", "type": "quantitative"}}},
{"transform": [{"filter": "datum.s=='#'"}], "mark": {"type": "text", "text": "#", "fontSize": 24}, "encoding": {"y": {"datum": 1043}}}
]
}
]
},
{
"bounds": "flush", "spacing": 37,
"resolve": {"scale": {"x": "independent", "y": "independent", "fill": "independent", "xOffset": "independent"}, "legend": {"fill": "independent"}},
"hconcat": [
{"width": 1, "height": 1, "data": {"name": "lab"}, "transform": [{"filter": "datum.id=='none'"}], "mark": "text"},
{
"bounds": "flush", "spacing": 320,
"resolve": {"scale": {"x": "independent", "y": "independent", "fill": "independent", "xOffset": "independent"}, "legend": {"fill": "independent"}},
"hconcat": [
{
"width": 287, "height": 254,
"transform": [{"filter": "datum.p=='e1'"}],
"encoding": {"x": {"field": "grp", "type": "nominal", "scale": {"domain": ["wt", "ko"], "paddingInner": 0.342, "paddingOuter": 0.136}, "axis": {"labels": false, "ticks": false, "title": null}}},
"layer": [
{"mark": "bar", "encoding": {"xOffset": {"field": "g", "type": "nominal", "scale": {"domain": ["control", "CoPP"], "paddingInner": 0.356, "paddingOuter": 0}}, "y": {"field": "v", "type": "quantitative", "scale": {"domain": [0, 3000000], "nice": false}, "axis": {"values": [0, 1000000, 2000000, 3000000], "labelExpr": "datum.value==0?'0':(datum.value/1000000)+'×10⁶'", "labelFontSize": 15, "title": "PMNs (x 10⁶)", "titleX": -102.5, "titleFontSize": 21}}, "fill": {"field": "g", "type": "nominal", "scale": {"domain": ["control", "CoPP"], "range": ["#ffffff", "#000000"]}, "legend": {"title": null, "offset": 52, "padding": 5, "symbolType": "M-1,-0.47H1V0.47H-1Z", "symbolSize": 625, "labelFontSize": 21, "rowPadding": 9, "labelOffset": 16}}}},
{"mark": "rule", "encoding": {"xOffset": {"field": "g", "type": "nominal"}, "y": {"field": "v", "type": "quantitative"}, "y2": {"field": "e"}}},
{"mark": {"type": "tick", "size": 16}, "encoding": {"xOffset": {"field": "g", "type": "nominal"}, "y": {"field": "e", "type": "quantitative"}}},
{"mark": {"type": "tick", "size": 40, "thickness": 4}, "encoding": {"xOffset": {"field": "g", "type": "nominal"}, "y": {"field": "v", "type": "quantitative"}}},
{"mark": {"type": "rule", "strokeWidth": 2}, "encoding": {"xOffset": {"field": "g", "type": "nominal"}, "y": {"datum": 0}, "y2": {"datum": -95000}}},
{"transform": [{"filter": "datum.g=='control'"}], "mark": {"type": "tick", "size": 69, "thickness": 2.5}, "encoding": {"y": {"datum": -354000}}},
{"transform": [{"filter": "datum.s=='*'"}], "mark": {"type": "text", "text": "*", "fontSize": 27, "dy": 6}, "encoding": {"xOffset": {"field": "g", "type": "nominal"}, "y": {"datum": 2216000}}},
{"data": {"name": "lab"}, "transform": [{"filter": "datum.id=='E'"}], "mark": {"type": "text", "font": "Liberation Sans", "fontWeight": "bold", "fontSize": 18, "dx": -193.1}, "encoding": {"x": {"datum": "wt"}, "y": {"datum": 3431000}, "text": {"field": "t"}}},
{"data": {"name": "lab"}, "transform": [{"filter": "datum.id=='wt'"}], "mark": {"type": "text", "fontSize": 20, "dx": -8.5}, "encoding": {"x": {"datum": "wt"}, "y": {"datum": -749000}, "text": {"field": "t"}}},
{"data": {"name": "lab"}, "transform": [{"filter": "datum.id=='A'"}], "mark": {"type": "text", "fontSize": 20, "dx": -18.3}, "encoding": {"x": {"datum": "ko"}, "y": {"datum": -749000}, "text": {"field": "t"}}},
{"data": {"name": "lab"}, "transform": [{"filter": "datum.id=='2A'"}], "mark": {"type": "text", "fontSize": 13, "dx": -1.8, "dy": 7}, "encoding": {"x": {"datum": "ko"}, "y": {"datum": -749000}, "text": {"field": "t"}}},
{"data": {"name": "lab"}, "transform": [{"filter": "datum.id=='ko'"}], "mark": {"type": "text", "fontSize": 20, "dx": 16.7}, "encoding": {"x": {"datum": "ko"}, "y": {"datum": -749000}, "text": {"field": "t"}}}
]
},
{
"bounds": "flush", "spacing": 12,
"resolve": {"scale": {"x": "independent", "y": "independent", "fill": "independent", "xOffset": "independent"}, "legend": {"fill": "independent"}},
"vconcat": [
{"width": 1, "height": 1, "data": {"name": "lab"}, "transform": [{"filter": "datum.id=='none'"}], "mark": "text"},
{
"width": 290, "height": 253,
"transform": [{"filter": "datum.p=='e2'"}],
"encoding": {"x": {"field": "grp", "type": "nominal", "scale": {"domain": ["wt", "ko"], "paddingInner": 0.342, "paddingOuter": 0.136}, "axis": {"labels": false, "ticks": false, "title": null}}},
"layer": [
{"mark": "bar", "encoding": {"xOffset": {"field": "g", "type": "nominal", "scale": {"domain": ["control", "CoPP"], "paddingInner": 0.356, "paddingOuter": 0}}, "y": {"field": "v", "type": "quantitative", "scale": {"domain": [0, 3000000], "nice": false}, "axis": {"values": [0, 1000000, 2000000, 3000000], "labelExpr": "datum.value==0?'0':(datum.value/1000000)+'×10⁶'", "labelFontSize": 15, "title": "PMNs (x 10⁶)", "titleX": -100, "titleFontSize": 21}}, "fill": {"field": "g", "type": "nominal", "scale": {"domain": ["control", "CoPP"], "range": ["#ffffff", "#000000"]}, "legend": {"title": null, "offset": 53, "padding": 5, "symbolType": "M-1,-0.47H1V0.47H-1Z", "symbolSize": 625, "labelFontSize": 21, "rowPadding": 9, "labelOffset": 16}}}},
{"mark": "rule", "encoding": {"xOffset": {"field": "g", "type": "nominal"}, "y": {"field": "v", "type": "quantitative"}, "y2": {"field": "e"}}},
{"mark": {"type": "tick", "size": 16}, "encoding": {"xOffset": {"field": "g", "type": "nominal"}, "y": {"field": "e", "type": "quantitative"}}},
{"mark": {"type": "tick", "size": 40, "thickness": 4}, "encoding": {"xOffset": {"field": "g", "type": "nominal"}, "y": {"field": "v", "type": "quantitative"}}},
{"mark": {"type": "rule", "strokeWidth": 2}, "encoding": {"xOffset": {"field": "g", "type": "nominal"}, "y": {"datum": 0}, "y2": {"datum": -95000}}},
{"transform": [{"filter": "datum.g=='control'"}], "mark": {"type": "tick", "size": 69, "thickness": 2.5}, "encoding": {"y": {"datum": -387000}}},
{"transform": [{"filter": "datum.s=='*'"}], "mark": {"type": "text", "text": "*", "fontSize": 27, "dy": 6}, "encoding": {"xOffset": {"field": "g", "type": "nominal"}, "y": {"datum": 2414000}}},
{"data": {"name": "lab"}, "transform": [{"filter": "datum.id=='wt'"}], "mark": {"type": "text", "fontSize": 20, "dx": -5.8}, "encoding": {"x": {"datum": "wt"}, "y": {"datum": -768000}, "text": {"field": "t"}}},
{"data": {"name": "lab"}, "transform": [{"filter": "datum.id=='A'"}], "mark": {"type": "text", "fontSize": 20, "dx": -16}, "encoding": {"x": {"datum": "ko"}, "y": {"datum": -768000}, "text": {"field": "t"}}},
{"data": {"name": "lab"}, "transform": [{"filter": "datum.id=='2B'"}], "mark": {"type": "text", "fontSize": 13, "dx": -1.6, "dy": 7}, "encoding": {"x": {"datum": "ko"}, "y": {"datum": -768000}, "text": {"field": "t"}}},
{"data": {"name": "lab"}, "transform": [{"filter": "datum.id=='ko'"}], "mark": {"type": "text", "fontSize": 20, "dx": 19}, "encoding": {"x": {"datum": "ko"}, "y": {"datum": -768000}, "text": {"field": "t"}}}
]
}
]
}
]
}
]
}
]
}
]
}
]
}
